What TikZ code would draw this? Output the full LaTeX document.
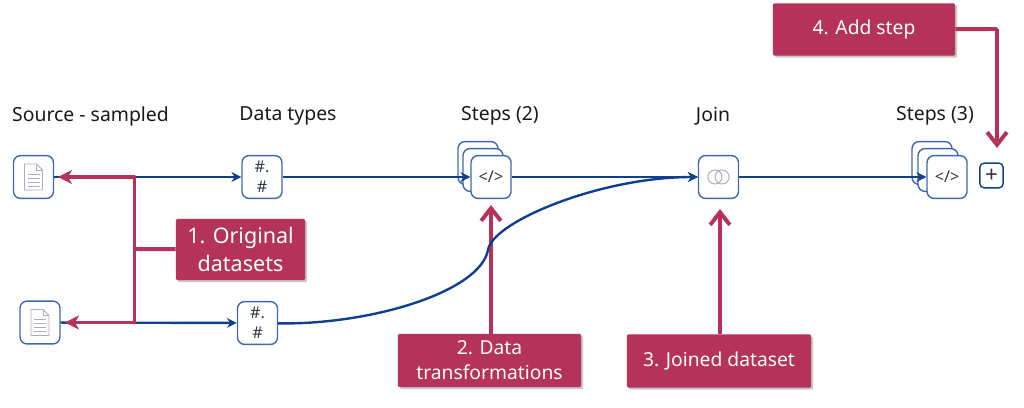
\documentclass[tikz,border=0pt]{standalone}
\usepackage{fontspec}
\setmainfont{Noto Sans}
\usetikzlibrary{arrows.meta,shadows}
\definecolor{callred}{HTML}{B5325A}
\definecolor{flowblue}{HTML}{0F3F8F}
\definecolor{cardblue}{HTML}{3F69AC}
\definecolor{inkgrey}{HTML}{2F3645}
\definecolor{icongrey}{HTML}{A9AEC4}
\tikzset{
  card/.style={shape=rectangle,draw=cardblue,fill=white,line width=1pt,rounded corners=5pt,minimum width=1cm,minimum height=1.07cm,inner sep=0pt,font=\fontsize{11.5}{14.5}\selectfont,text=inkgrey,align=center},
  head/.style={font=\fontsize{13.8}{16}\selectfont,text=black!90},
  callout/.style={shape=rectangle,fill=callred,text=white,rounded corners=0.8pt,inner sep=0pt,align=center,font=\fontsize{13.7}{17.7}\selectfont,drop shadow={shadow xshift=1.5pt,shadow yshift=-1.5pt,opacity=.22,fill=black}},
  flow/.style={draw=flowblue,line width=1.7pt,-{Stealth[length=7pt,width=7pt]}},
  markline/.style={draw=callred,line width=2.8pt},
  markstealth/.style={markline,-{Stealth[length=10pt,width=10pt,inset=3pt]}},
  markarrow/.style={markline,-{Straight Barb[length=9pt,width=14pt,line width=2.8pt]}},
  iconline/.style={draw=icongrey,line width=0.7pt}
}
\begin{document}
\begin{tikzpicture}[x=0.025cm,y=-0.025cm]
      \useasboundingbox (0,0) rectangle (1024,407);

      \node[head] (h0) at (90.5,116) {Source - sampled};
      \node[head] (h1) at (288,116) {Data types};
      \node[head] (h2) at (500,116) {Steps (2)};
      \node[head] (h3) at (713,116) {Join};
      \node[head] (h4) at (935,116) {Steps (3)};

      \node[card] (doc1) at (33.5,177) {};
      \node[card] (doc2) at (40,322.5) {};
      \node[card] (type1) at (262,177) {\#.\\\#};
      \node[card] (type2) at (257.5,323) {\#.\\\#};

      % stacked cards
      \node[card] (step2c) at (478,163) {};
      \node[card] (step2b) at (483,170) {};
      \node[card] (step2a) at (491,177) {</>};
      \node[card] (step3c) at (932,163) {};
      \node[card] (step3b) at (938,170) {};
      \node[card] (step3a) at (947,177) {</>};

      \node[card] (join) at (718.5,177) {};
      \node[card,minimum width=0.58cm,minimum height=0.62cm,rounded corners=3pt,draw=flowblue,font=\fontsize{16}{16}\bfseries\selectfont] (plus) at (991.5,175.5) {+};

      \path [flow](doc1) edge (type1) ;
      \path [flow](doc2) edge (type2) ;
      \path [flow](type1) edge (step2a) ;
      \path [flow](step2a) edge (join) ;
      \path [flow](join) edge (step3a) ;

      % callouts
      \node[callout,minimum width=3.225cm,minimum height=1.525cm,font=\fontsize{15.3}{19.5}\selectfont] (call1) at (240.5,249.5) {1. Original\\datasets};
      \node[callout,minimum width=4.575cm,minimum height=1.325cm] (call2) at (489.5,360.5) {2. Data\\transformations};
      \node[callout,minimum width=4.6cm,minimum height=1.325cm] (call3) at (719,361) {3. Joined dataset};
      \node[callout,minimum width=4.55cm,minimum height=1.3cm] (call4) at (864,29.5) {4. Add step};

      \coordinate (fork) at (134.5,249);
      \coordinate (fork1) at (134.5,177);
      \coordinate (fork2) at (134.5,322.5);
      \coordinate (tip1) at (58,177);
      \coordinate (tip2) at (65,322.5);
      \coordinate (tip3) at (491,205);
      \coordinate (tip4) at (720,209);
      \coordinate (tip5) at (997,148);
      \coordinate (turn) at (997,29);

      \draw [markline](call1) -- (fork) ;
      \draw [markline,line cap=round](fork1) -- (fork2) ;
      \draw [markstealth](fork1) -- (tip1) ;
      \draw [markstealth](fork2) -- (tip2) ;
      \draw [markarrow](call2.north -| tip3) -- (tip3) ;
      \draw [markarrow](call3.north -| tip4) -- (tip4) ;
      \draw [markarrow,rounded corners=1pt](call4) -- (turn) -- (tip5) ;

      \coordinate (bend) at (488,250);
      \path [flow](type2) .. controls (370,325) and (480,292) .. (bend) .. controls (492,222) and (600,177) .. (join) ;

      % icons
      \foreach \n in {doc1,doc2} {
        \draw [iconline,line join=round,fill=white] ([shift={(-9,-13)}]\n.center) -- ++(12,0) -- ++(6,6) -- ++(0,20) -- ++(-18,0) -- cycle ;
        \draw [iconline] ([shift={(3,-13)}]\n.center) -- ++(0,6) -- ++(6,0) ;
        \foreach \k in {-3,1,5,9} {
          \draw [iconline] ([shift={(-6,\k)}]\n.center) -- ++(12,0) ;
        }
      }
      \draw [iconline] ([xshift=-0.09cm]join.center) circle (0.175cm) ;
      \draw [iconline] ([xshift=0.09cm]join.center) circle (0.175cm) ;

    \end{tikzpicture}
\end{document}
